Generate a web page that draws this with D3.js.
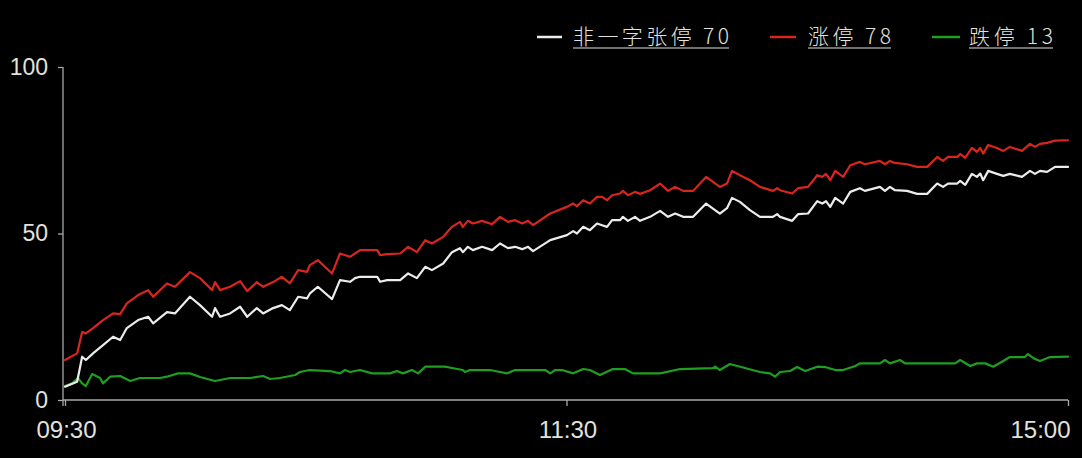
<!DOCTYPE html>
<html>
<head>
<meta charset="utf-8">
<script src="https://cdn.jsdelivr.net/npm/d3@7/dist/d3.min.js"></script>
<style>
  html, body { margin: 0; padding: 0; background: #000; }
  svg { display: block; }
</style>
</head>
<body>
<svg id="chart" width="1082" height="458"></svg>
<script>
// ---- data (minute index from 09:30, 0..240 trading minutes) ----
const xTickMinutes = [0, 120, 240];
const xTickLabels = ["09:30", "11:30", "15:00"];
const yTicks = [0, 50, 100];

const seriesNames = ["非一字张停 70", "涨停 78", "跌停 13"];

const upMinute = [
  0,2.9,4.1,5,6.7,9.1,11.5,13.2,14.8,17.5,
  19.9,21.1,24.4,26.3,29.9,32.3,35.2,35.9,37.1,39.5,
  41.9,43.6,45.9,47.4,49.8,51.9,53.8,55.8,57.9,58.6,
  60.5,63.9,65.8,68.2,69.4,70.6,74.7,75.4,77.1,80.2,
  82.1,84.2,86.2,87.8,90.5,92.6,94.5,95.2,96.4,97.6,
  99.8,102.2,104.1,106,107.7,109.4,110.8,112,116.1,120.1,
  121.6,122.5,124,125.6,127.3,128.5,129.7,130.9,132.8,133.5,
  134.7,136.4,137.6,140,142.4,144.3,146,147.9,150.3,153.4,
  156.7,158.4,159.6,161.5,163.9,166.3,169.4,170.4,171.1,174,
  175.4,177.8,180,181.2,182.1,183.1,184.3,186.2,187.9,190.2,
  191.4,195,196.2,197.4,198.6,201.5,203.9,206.3,208.7,210.1,
  211.3,213.5,214.2,215.4,217,218.2,219,219.7,220.9,223,
  224.5,226.1,229,230.9,232.1,233.3,235,236.9,240
];

const nonOneWordUp = [
  4,5.5,13,12,14,16.5,19,18,21.6,24,
  25,23,26.4,26,31,28.5,25,27.6,25,26,
  28,25,27.6,26,27.6,28.5,27,31,30.5,32,
  34,30.3,36,35.5,36.6,37,37,35.5,36,36,
  38,36.6,40,39,41,44.4,45.6,44.4,46,45,
  46,45,47,45.6,46,45.3,46,44.7,48,49.5,
  50.7,50,52,51,53,52.5,52,54,54,55,
  53.8,55,53.8,55,56.8,55,56,55,55,59,
  56,57.6,60.7,59.5,57,55,55,55.8,55,53.8,
  55.8,56,59.7,59,59.7,58,60.7,59,62.5,63.6,
  62.8,64,62.8,64,63,62.8,61.9,61.9,65,64,
  65,65,65.8,64.6,67.9,67,68,66,68.8,67.9,
  67.3,67.9,67,68.8,67.9,68.8,68.5,70,70
];

const limitUp = [
  12,14,20.4,20,21.6,24,26,25.8,29,31.5,
  33,31,35,34,38.4,36.6,33,35.4,33,34,
  35.7,32.7,35.4,34,35.4,37,35,39,38.5,40.5,
  42,38,44,43,44,45,45,43.5,43.8,44,
  46,44.4,48,47,49,52,53.5,52,53.8,53,
  53.8,52.8,55,53.5,54,53,53.8,52.5,56,58,
  59,58.2,60,59,61,61,60,61.5,62,62.8,
  61.5,62.5,61.9,63,65,62.8,64,62.8,62.8,67,
  64,65,68.8,67.5,66,64,62.8,63.6,63,62,
  63.6,64,67.5,67,67.9,66,68.8,67,70.5,71.5,
  70.8,71.8,70.8,71.8,71.2,70.8,70,70,73,71.8,
  73,73,73.9,72.7,75.7,74.5,75.7,74,76.6,75.7,
  74.8,76,74.8,76.9,76,76.9,77.2,77.9,78
];

const downMinute = [
  0,1.7,3.1,4.1,5,6.5,8.4,9.1,10.8,13.2,
  15.6,17.9,22.7,24.4,27,29.9,32.3,35.9,39.5,44.3,
  47.4,49.1,51.4,55.1,56.2,58.6,63.4,65.8,67,68.2,
  70.6,73.5,77.8,79.4,80.9,83,84.5,86.2,90.9,92.6,
  95.2,95.7,96.9,101.7,104.1,105.8,107.7,114.9,116.1,117.3,
  118.9,121.6,124,125.6,128,131.1,134,135.9,142.4,147.2,
  155.1,155.6,156.7,159.1,166.3,168.7,169.9,171.1,173.5,175.2,
  177.1,180,181.9,184.3,186.2,189.1,190.2,195,196.2,197.4,
  199.8,201,213,214.2,216.6,218.2,220.2,222.1,224.5,226.1,
  229.7,230.4,232.1,233.3,235.7,240
];

const limitDown = [
  4.2,5,6.6,5,4.2,7.8,6.6,5,7,7.2,
  5.7,6.6,6.6,7,8,8,6.9,5.7,6.6,6.6,
  7.2,6.3,6.6,7.5,8.4,9,8.7,8,9,8.4,
  9,8,8,8.7,8,9,8,10,10,9.6,
  9,8.4,9,9,8.4,8,9,9,8,9,
  9,8,9.3,9,7.5,9.3,9.3,8,8,9.3,
  9.6,10,9,10.8,8.4,8,7,8.4,8.7,9.9,
  8.7,10,9.9,9,9,10.2,11,11,12,11,
  12,11,11,12,10.2,11,11,10,11.7,12.9,
  12.9,13.8,12.3,11.7,12.9,13
];

// ---- drawing ----
const svg = d3.select("#chart");
svg.append("rect").attr("width", 1082).attr("height", 458).attr("fill", "#000");

const x = d3.scaleLinear().domain([0, 240]).range([65, 1068]);
const y = d3.scaleLinear().domain([0, 100]).range([400, 67]);

const textColor = "#e2e2dc";
const axisColor = "#a8a8a8";
const fontNum = "'Liberation Sans', Arial, sans-serif";

// Y axis
const yAxis = svg.append("g").attr("transform", "translate(63,0)")
  .call(d3.axisLeft(y).tickValues(yTicks).tickSize(5).tickSizeOuter(0).tickPadding(10));
yAxis.select(".domain").attr("stroke", axisColor).attr("stroke-width", 1.3)
  .attr("d", `M0,${y(100)}V${y(0)+6}`);
yAxis.selectAll(".tick line").attr("stroke", axisColor).attr("stroke-width", 1.3);
yAxis.selectAll(".tick text").attr("fill", textColor).attr("font-size", 23)
  .attr("font-family", fontNum);

// X axis
const xAxis = svg.append("g").attr("transform", "translate(0,400)")
  .call(d3.axisBottom(x).tickValues(xTickMinutes)
    .tickFormat((d, i) => xTickLabels[i]).tickSize(6).tickSizeOuter(0).tickPadding(15));
xAxis.select(".domain").attr("stroke", axisColor).attr("stroke-width", 1.3)
  .attr("d", `M63,0H${x(240)}`);
xAxis.selectAll(".tick line").attr("stroke", axisColor).attr("stroke-width", 1.3);
xAxis.selectAll(".tick text").attr("fill", textColor).attr("font-size", 24)
  .attr("font-family", fontNum)
  .attr("text-anchor", (d, i) => i === xTickMinutes.length - 1 ? "end" : "middle")
  .attr("dx", (d, i) => i === xTickMinutes.length - 1 ? 2 : 1);

// lines
const line = d3.line().x(d => x(d[0])).y(d => y(d[1]));
const series = [
  { minutes: downMinute, values: limitDown, color: "#1f9e1f" },
  { minutes: upMinute, values: nonOneWordUp, color: "#ececec" },
  { minutes: upMinute, values: limitUp, color: "#d8261f" }
];
series.forEach(s => {
  const pts = s.minutes.map((m, i) => [m, s.values[i]]);
  svg.append("path").datum(pts).attr("d", line)
    .attr("fill", "none").attr("stroke", s.color).attr("stroke-width", 2.2)
    .attr("stroke-linejoin", "round").attr("stroke-linecap", "round");
});

// legend
const legendItems = [
  { name: seriesNames[0], color: "#ececec", x0: 537, x1: 562, tx: 573, tw: 156 },
  { name: seriesNames[1], color: "#d8261f", x0: 770, x1: 796, tx: 808, tw: 83 },
  { name: seriesNames[2], color: "#1f9e1f", x0: 932, x1: 960, tx: 969, tw: 84 }
];
const lg = svg.append("g");
legendItems.forEach(it => {
  lg.append("line").attr("x1", it.x0).attr("x2", it.x1).attr("y1", 37).attr("y2", 37)
    .attr("stroke", it.color).attr("stroke-width", 2.5);
  lg.append("text").attr("x", it.tx).attr("y", 44)
    .attr("fill", textColor).attr("font-size", 21)
    .attr("font-family", "'Noto Sans CJK SC', sans-serif").attr("font-weight", 300)
    .attr("textLength", it.tw).attr("lengthAdjust", "spacing")
    .text(it.name);
  lg.append("line").attr("x1", it.tx).attr("x2", it.tx + it.tw).attr("y1", 48).attr("y2", 48)
    .attr("stroke", textColor).attr("stroke-width", 1.2);
});
</script>
</body>
</html>
